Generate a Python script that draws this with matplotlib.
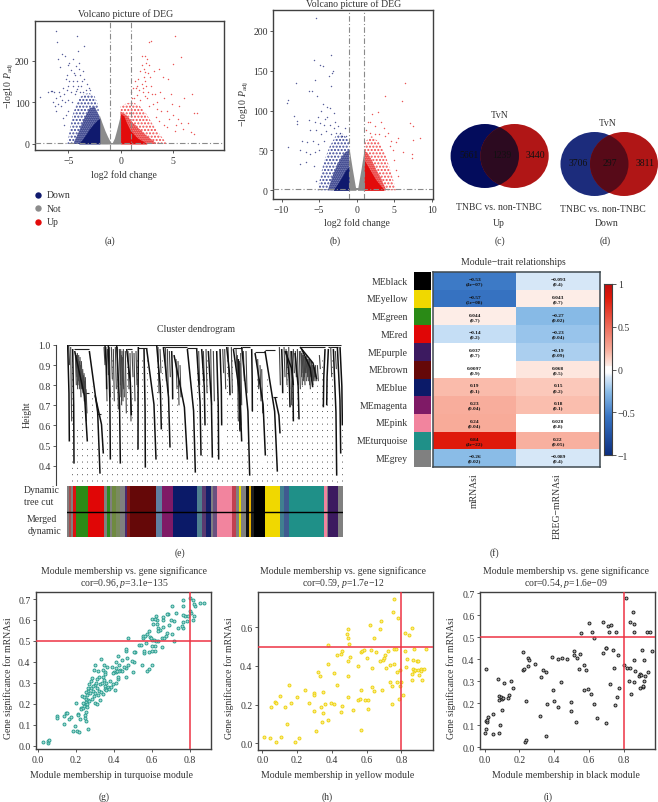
import matplotlib
matplotlib.use('Agg')
import matplotlib.pyplot as plt
from matplotlib.patches import Ellipse
from matplotlib.colors import LinearSegmentedColormap, Normalize
import numpy as np

plt.rcParams['font.family'] = ['Liberation Serif', 'DejaVu Serif']
plt.rcParams['mathtext.fontset'] = 'custom'
plt.rcParams['mathtext.rm'] = 'Liberation Serif'
plt.rcParams['mathtext.it'] = 'Liberation Serif:italic'
W, H = 658, 803
TXT = '#333333'
FS = 7.0

# ---------- volcano (a) ----------
A_GREY_L_X = [-2.05, -1.8, -1.5, -1.25, -1.0, -0.85]
A_GREY_L_Y = [70, 52, 32, 18, 6, 1]
A_GREY_R_X = [-0.85, -0.6, -0.4, -0.2, 0.0]
A_GREY_R_Y = [1, 14, 32, 52, 72]
A_BLUE_X = [-4.0, -3.7, -3.3, -3.0, -2.6, -2.3, -2.0]
A_BLUE_Y = [2, 10, 24, 36, 48, 56, 62]
A_BLUE_MID_X = [-4.5, -4.0, -3.5, -3.0, -2.5, -2.0]
A_BLUE_MID_Y = [2, 30, 60, 85, 90, 65]
A_BLUE_HALO_X = [-5.1, -4.6, -4.0, -3.5, -3.0, -2.5, -2.1]
A_BLUE_HALO_Y = [2, 70, 110, 120, 122, 115, 90]
A_RED_X = [0.0, 0.3, 0.55, 0.9, 1.3, 1.7, 2.2, 2.5]
A_RED_Y = [72, 68, 52, 34, 22, 13, 6, 1]
A_RED_MID_X = [0.0, 0.6, 1.2, 1.8, 2.4, 3.0, 3.4]
A_RED_MID_Y = [78, 68, 50, 36, 22, 10, 1]
A_RED_HALO_X = [0.0, 0.6, 1.2, 1.8, 2.4, 3.0, 3.6, 4.4]
A_RED_HALO_Y = [90, 98, 100, 92, 75, 50, 28, 2]
A_BLUE_PTS = [(-7.7,113),(-7.0,125),(-6.7,128),(-6.4,125),(-6.15,272),(-6.1,244),(-4.2,260),(-3.5,235),(-5.6,215),(-5.3,210),(-4.6,205),(-4.9,195),(-5.0,190),(-4.3,188),(-6.0,205),(-5.8,185),(-5.1,165),(-4.0,180),(-3.9,165),(-4.5,170),(-4.2,150),(-4.9,150),(-5.0,140),(-4.6,140),(-4.1,140),(-3.7,150),(-3.5,155),(-3.3,130),(-3.6,125),(-3.9,125),(-4.4,120),(-4.8,125),(-5.4,120),(-5.8,115),(-6.2,110),(-6.5,100),(-6.0,95),(-6.2,78),(-5.7,90),(-5.3,100),(-5.0,105),(-4.7,100),(-5.2,70),(-5.5,62),(-5.0,80),(-6.6,128),(-5.9,125),(-5.1,130),(-4.3,128),(-5.4,45),(-5.6,105),(-4.4,165),(-4.8,178),(-3.8,140),(-3.2,145),(-2.9,130),(-4.0,195),(-3.6,175),(-4.1,222),(-5.2,155),(-5.5,135),(-6.3,92),(-4.6,152),(-4.2,132),(-3.0,135)]
A_RED_PTS = [(5.2,260),(2.9,248),(2.7,245),(5.8,208),(5.0,192),(2.0,212),(2.3,212),(2.5,205),(2.4,195),(1.9,175),(2.3,172),(2.2,160),(1.7,155),(2.0,145),(1.5,135),(1.0,125),(1.3,110),(1.6,118),(1.9,105),(2.3,115),(2.6,125),(2.9,140),(3.2,175),(3.7,180),(4.1,160),(4.5,155),(4.8,120),(4.2,110),(3.5,100),(3.1,95),(2.7,90),(3.9,80),(4.4,80),(5.0,70),(5.5,60),(5.8,50),(6.1,110),(6.5,50),(6.7,28),(7.0,25),(7.0,75),(7.3,75),(6.8,120),(5.6,90),(4.9,95),(4.6,60),(4.2,45),(3.7,55),(3.4,65),(5.2,30),(1.4,150),(1.8,130),(2.1,125),(2.4,140),(2.2,180),(2.0,190),(2.6,170),(1.1,110),(3.3,120),(3.8,125),(3.5,85),(4.4,40),(5.3,45),(6.0,35),(2.3,150),(1.6,140),(2.8,160),(3.0,120),(2.5,110),(2.1,135),(2.7,190),(1.2,135)]

# ---------- volcano (b) ----------
B_GREY_L_X = [-1.0, -0.8, -0.6, -0.4, -0.2, -0.1]
B_GREY_L_Y = [52, 40, 28, 17, 6, 1]
B_GREY_R_X = [0.1, 0.2, 0.4, 0.6, 0.8, 1.0]
B_GREY_R_Y = [1, 6, 17, 28, 40, 52]
B_BLUE_X = [-3.1, -2.7, -2.3, -1.9, -1.5, -1.0]
B_BLUE_Y = [1, 6, 12, 18, 25, 30]
B_BLUE_MID_X = [-3.8, -3.2, -2.6, -2.0, -1.5, -1.0]
B_BLUE_MID_Y = [1, 18, 32, 42, 48, 50]
B_BLUE_HALO_X = [-5.2, -4.4, -3.6, -2.8, -2.0, -1.0]
B_BLUE_HALO_Y = [1, 35, 55, 68, 72, 62]
B_RED_X = [1.0, 1.5, 2.0, 2.5, 3.0, 3.6]
B_RED_Y = [38, 30, 22, 14, 8, 1]
B_RED_MID_X = [1.0, 1.5, 2.0, 2.6, 3.2, 3.9]
B_RED_MID_Y = [50, 46, 38, 26, 16, 1]
B_RED_HALO_X = [1.0, 2.0, 3.0, 3.8, 4.6, 5.2]
B_RED_HALO_Y = [60, 68, 60, 45, 22, 1]
B_BLUE_PTS = [(-5.4,216),(-3.4,170),(-5.7,163),(-4.9,157),(-4.5,156),(-3.1,150),(-3.3,147),(-3.7,143),(-5.5,138),(-8.1,135),(-3.4,131),(-6.3,124),(-5.9,125),(-5.3,118),(-9.2,113),(-9.3,109),(-4.5,108),(-4.0,105),(-3.6,103),(-4.8,100),(-3.0,97),(-3.9,92),(-8.3,93),(-8.0,87),(-8.0,83),(-6.4,88),(-5.6,85),(-4.9,84),(-4.4,82),(-3.6,82),(-2.9,85),(-2.5,80),(-6.2,75),(-5.4,75),(-4.7,70),(-4.1,74),(-3.4,70),(-2.8,72),(-2.2,72),(-7.3,62),(-6.6,60),(-5.8,62),(-5.2,58),(-4.4,62),(-9.2,54),(-7.5,50),(-6.8,48),(-6.2,45),(-5.6,48),(-5.0,50),(-5.4,12),(-7.6,33),(-6.7,35),(-5.7,30),(-1.6,78),(-1.4,68),(-1.9,68),(-3.0,78),(-5.1,92),(-4.2,90)]
B_RED_PTS = [(6.4,135),(3.8,118),(6.0,112),(2.1,96),(2.8,98),(3.3,85),(7.1,84),(7.5,81),(1.5,86),(1.8,85),(2.5,80),(3.6,78),(4.2,72),(4.6,62),(5.2,60),(1.2,76),(1.8,72),(2.4,70),(3.0,70),(3.8,68),(4.4,55),(4.9,50),(5.5,65),(7.5,63),(8.4,65),(5.0,38),(5.3,25),(5.5,18),(7.4,45),(7.4,40),(6.2,48)]

# ---------- venn ----------
VENN_C = ['5661', '1239', '3440']
VENN_D = ['3706', '297', '3811']

# ---------- dendrogram: x in gene order, heights ----------
TRUNK_X0 = [203,218,224,268,285,315,325,350,380,415,432,440,470,490,515,522,562,590,605,625,650,660,680,700,715,725,755,765,795,825,845,860,875,885,900,905,855,975,985,1000,1012,1020]
TRUNK_TOP = [1.0,.98,.97,.97,.75,1.0,1.0,1.0,.98,.99,.98,.98,1.0,.99,.97,.95,.98,.98,.98,.97,.97,.98,.99,.98,.93,.99,.98,.96,.97,.74,.98,.97,.97,.96,.99,.98,.97,.98,.98,.98,.99,.99]
TRUNK_X1 = [208,222,262,300,310,320,331,361,394,414,436,468,484,510,518,562,586,603,615,637,656,665,690,725,720,749,757,796,832,840,848,870,880,897,950,938,880,970,980,1010,1022,1027]
TRUNK_BOT = [.52,.41,.52,.36,.46,.78,.43,.41,.65,.48,.39,.43,.58,.49,.73,.43,.365,.45,.60,.44,.43,.60,.75,.52,.57,.35,.67,.45,.37,.56,.76,.69,.62,.63,.83,.79,.80,.69,.70,.35,.46,.60]
SHORT_X0 = [206,212,226,228,230,232,234,236,238,240,242,244,246,248,250,252,254,256,258,312,318,322,328,334,340,346,352,358,360,362,364,366,368,370,376,384,390,396,402,408,474,480,496,502,508,528,534,540,596,610,618,632,640,668,674,684,694,708,712,714,716,718,720,722,730,738,773,780,785,838,852,858,866,872,880,886,892,898,902,904,906,908,910,912,914,916,918,920,922,924,926,928,930,932,934,936,938,940,942,944,946,952,958,992,1006]
SHORT_TOP = [1.0,.99,.96,.95,.95,.96,.93,.95,.92,.94,.90,.92,.87,.88,.85,.86,.82,.84,.78,.99,.99,.98,.99,.99,.98,.99,.99,.98,.97,.98,.95,.97,.94,.98,.97,.97,.96,.97,.96,.97,.99,.98,.99,.98,.97,.93,.92,.90,.97,.97,.98,.98,.97,.98,.98,.99,.99,.98,.95,.93,.92,.92,.91,.96,.97,.97,.93,.90,.88,.99,.99,.98,.99,.97,.98,.97,.98,.97,.97,.96,.96,.95,.95,.94,.94,.94,.93,.95,.93,.92,.93,.93,.90,.92,.92,.90,.90,.90,.89,.88,.90,.90,.95,.99,.97]
SHORT_BOT = [.90,.62,.80,.84,.78,.82,.80,.78,.84,.74,.78,.80,.76,.76,.72,.74,.70,.62,.66,.90,.72,.85,.74,.83,.72,.78,.68,.80,.74,.70,.82,.72,.78,.74,.66,.78,.62,.84,.72,.80,.76,.86,.82,.76,.84,.78,.70,.74,.80,.82,.76,.70,.72,.86,.78,.84,.76,.88,.62,.68,.58,.64,.60,.70,.82,.76,.78,.72,.66,.80,.84,.80,.78,.70,.86,.84,.80,.78,.84,.80,.86,.82,.84,.80,.86,.82,.86,.84,.82,.84,.80,.78,.84,.82,.85,.80,.82,.84,.82,.84,.82,.82,.88,.84,.88]
MERGE_X0 = [201,222,252,292,380,415,490,562,700,725,765,795,820,900,985]
MERGE_X1 = [1024,268,266,303,395,440,560,590,725,750,795,825,832,975,1015]
MERGE_H = [1.0,.98,.76,.655,.98,.985,.99,.985,.985,.99,.965,.975,.74,.99,.99]
BAR_EDGES = [201,207,212,218,228,264,312,322,330,336,348,360,376,382,390,468,485,520,590,605,618,632,640,652,697,708,716,724,738,748,754,762,795,840,852,868,972,980,985,1015,1028]
BAR_COLORS = ['#808080','#a05050','#808080','#dd1111','#2a8a16','#e00606','#808080','#2f8a20','#808080','#6f8a40','#7a8a60','#808080','#4a2a70','#8a1a1a','#650808','#6080a0','#7f1a66','#0b1a68','#4f8090','#5a3a70','#15206a','#808080','#6a5080','#f2849e','#c04050','#808080','#e8d800','#808080','#111111','#e8b000','#202020','#000000','#f0d800','#408090','#405a90','#1f9088','#f2849e','#808080','#3c1a60','#808080']

# ---------- heatmap ----------
MODULES = ['MEblack','MEyellow','MEgreen','MEred','MEpurple','MEbrown','MEblue','MEmagenta','MEpink','MEturquoise','MEgrey']
MOD_COLORS = ['#000000','#f0d800','#2a8a16','#e00606','#3c1a60','#650808','#0b1a68','#7f1a66','#f2849e','#1f9088','#808080']
TRAITS = ['mRNAsi','EREG\u2212mRNAsi']
COR_M = [-0.53,-0.57,0.044,-0.14,0.037,0.0097,0.19,0.23,0.24,0.84,-0.26]
COR_E = [-0.093,0.043,-0.27,-0.23,-0.19,0.068,0.15,0.18,0.028,0.22,-0.089]
CELL_M = ['\u22120.53\n(4e\u221207)','\u22120.57\n(5e\u221208)','0.044\n(0.7)','\u22120.14\n(0.2)','0.037\n(0.7)','0.0097\n(0.9)','0.19\n(0.1)','0.23\n(0.04)','0.24\n(0.04)','0.84\n(4e\u221222)','\u22120.26\n(0.02)']
CELL_E = ['\u22120.093\n(0.4)','0.043\n(0.7)','\u22120.27\n(0.02)','\u22120.23\n(0.04)','\u22120.19\n(0.09)','0.068\n(0.5)','0.15\n(0.2)','0.18\n(0.1)','0.028\n(0.8)','0.22\n(0.05)','\u22120.089\n(0.4)']

# ---------- scatter ----------
TURQ = [(0.025,0.018),(0.05,0.015),(0.055,0.022),(0.058,0.028),(0.10,0.142),(0.10,0.13),(0.135,0.105),(0.135,0.14),(0.145,0.155),(0.15,0.155),(0.165,0.125),(0.175,0.135),(0.185,0.072),(0.195,0.095),(0.205,0.07),(0.215,0.065),(0.265,0.08),(0.255,0.118),(0.20,0.202),(0.21,0.15),(0.21,0.145),(0.22,0.125),(0.225,0.18),(0.225,0.175),(0.23,0.238),(0.235,0.18),(0.24,0.19),(0.245,0.13),(0.245,0.145),(0.25,0.16),(0.25,0.2),(0.255,0.21),(0.255,0.225),(0.26,0.2),(0.26,0.185),(0.265,0.22),(0.265,0.26),(0.27,0.295),(0.275,0.25),(0.28,0.31),(0.285,0.325),(0.28,0.275),(0.29,0.26),(0.295,0.235),(0.30,0.25),(0.30,0.29),(0.305,0.30),(0.31,0.275),(0.315,0.24),(0.32,0.26),(0.325,0.295),(0.33,0.415),(0.34,0.36),(0.30,0.385),(0.295,0.36),(0.315,0.355),(0.345,0.385),(0.35,0.35),(0.34,0.33),(0.335,0.30),(0.345,0.315),(0.30,0.205),(0.31,0.20),(0.325,0.22),(0.33,0.255),(0.34,0.245),(0.35,0.285),(0.355,0.27),(0.36,0.30),(0.36,0.265),(0.37,0.28),(0.375,0.27),(0.385,0.28),(0.395,0.295),(0.405,0.265),(0.41,0.30),(0.42,0.32),(0.42,0.33),(0.41,0.35),(0.40,0.35),(0.395,0.345),(0.43,0.36),(0.44,0.355),(0.425,0.355),(0.415,0.355),(0.41,0.37),(0.39,0.375),(0.50,0.35),(0.465,0.33),(0.505,0.40),(0.495,0.405),(0.465,0.37),(0.45,0.375),(0.475,0.385),(0.425,0.385),(0.41,0.40),(0.44,0.41),(0.47,0.42),(0.42,0.43),(0.465,0.45),(0.465,0.46),(0.51,0.445),(0.505,0.445),(0.60,0.385),(0.585,0.365),(0.575,0.355),(0.545,0.385),(0.585,0.445),(0.555,0.44),(0.56,0.45),(0.63,0.50),(0.715,0.50),(0.65,0.47),(0.615,0.45),(0.60,0.45),(0.615,0.475),(0.60,0.475),(0.475,0.515),(0.53,0.48),(0.54,0.48),(0.57,0.49),(0.55,0.515),(0.55,0.525),(0.59,0.52),(0.62,0.50),(0.61,0.505),(0.60,0.505),(0.595,0.515),(0.565,0.525),(0.575,0.535),(0.585,0.545),(0.625,0.60),(0.605,0.58),(0.60,0.605),(0.615,0.605),(0.62,0.62),(0.625,0.58),(0.63,0.56),(0.655,0.565),(0.64,0.55),(0.63,0.545),(0.65,0.515),(0.665,0.515),(0.675,0.525),(0.705,0.535),(0.68,0.54),(0.765,0.56),(0.76,0.57),(0.735,0.56),(0.69,0.575),(0.715,0.595),(0.70,0.60),(0.66,0.60),(0.655,0.615),(0.685,0.63),(0.68,0.63),(0.725,0.635),(0.765,0.59),(0.785,0.595),(0.815,0.60),(0.82,0.62),(0.775,0.62),(0.765,0.625),(0.79,0.62),(0.805,0.635),(0.80,0.645),(0.705,0.665),(0.765,0.668),(0.825,0.665),(0.82,0.675),(0.765,0.695),(0.815,0.695),(0.80,0.705),(0.875,0.682),(0.85,0.68),(0.24,0.23),(0.235,0.205),(0.27,0.215),(0.285,0.225),(0.29,0.285),(0.265,0.275),(0.25,0.255),(0.26,0.24),(0.32,0.33),(0.31,0.32),(0.355,0.34),(0.38,0.31),(0.365,0.375)]
YELLOW = [(0.01,0.035),(0.045,0.027),(0.08,0.005),(0.105,0.033),(0.19,0.005),(0.21,0.025),(0.14,0.10),(0.05,0.187),(0.07,0.215),(0.08,0.208),(0.10,0.247),(0.13,0.188),(0.155,0.30),(0.165,0.208),(0.20,0.237),(0.245,0.275),(0.27,0.207),(0.30,0.168),(0.30,0.26),(0.30,0.25),(0.31,0.063),(0.32,0.367),(0.33,0.347),(0.335,0.187),(0.345,0.11),(0.35,0.155),(0.35,0.263),(0.36,0.205),(0.38,0.51),(0.38,0.41),(0.38,0.123),(0.395,0.208),(0.41,0.205),(0.415,0.362),(0.43,0.455),(0.43,0.303),(0.45,0.162),(0.455,0.46),(0.46,0.478),(0.46,0.193),(0.485,0.567),(0.49,0.348),(0.49,0.425),(0.495,0.59),(0.495,0.545),(0.495,0.238),(0.50,0.512),(0.505,0.445),(0.52,0.172),(0.55,0.225),(0.55,0.40),(0.56,0.228),(0.565,0.07),(0.57,0.278),(0.57,0.47),(0.575,0.475),(0.585,0.482),(0.59,0.225),(0.60,0.44),(0.605,0.178),(0.61,0.225),(0.62,0.61),(0.625,0.483),(0.63,0.39),(0.63,0.292),(0.64,0.27),(0.64,0.545),(0.655,0.47),(0.675,0.425),(0.675,0.592),(0.685,0.633),(0.69,0.278),(0.695,0.432),(0.70,0.443),(0.705,0.455),(0.71,0.39),(0.72,0.48),(0.735,0.315),(0.735,0.405),(0.745,0.205),(0.745,0.298),(0.75,0.68),(0.755,0.748),(0.755,0.49),(0.755,0.41),(0.77,0.487),(0.775,0.315),(0.775,0.37),(0.78,0.648),(0.785,0.23),(0.79,0.295),(0.79,0.38),(0.795,0.315),(0.81,0.252),(0.82,0.57),(0.82,0.48),(0.825,0.395),(0.83,0.435),(0.845,0.558),(0.86,0.595),(0.86,0.36),(0.86,0.33),(0.865,0.43),(0.865,0.385),(0.87,0.49),(0.87,0.375),(0.88,0.38),(0.89,0.425),(0.895,0.425),(0.895,0.38),(0.90,0.355),(0.91,0.385),(0.915,0.375),(0.92,0.325),(0.93,0.385),(0.94,0.49)]
BLACK = [(0.005,0.358),(0.0,0.065),(0.01,0.083),(0.01,0.12),(0.012,0.115),(0.015,0.125),(0.018,0.137),(0.045,0.06),(0.045,0.153),(0.075,0.31),(0.08,0.063),(0.085,0.235),(0.085,0.215),(0.09,0.103),(0.095,0.23),(0.098,0.22),(0.10,0.17),(0.105,0.225),(0.11,0.292),(0.135,0.222),(0.14,0.238),(0.15,0.303),(0.16,0.268),(0.22,0.35),(0.22,0.435),(0.225,0.355),(0.23,0.025),(0.235,0.035),(0.24,0.21),(0.25,0.405),(0.25,0.368),(0.255,0.395),(0.29,0.378),(0.32,0.142),(0.325,0.318),(0.335,0.35),(0.355,0.342),(0.355,0.052),(0.36,0.195),(0.385,0.41),(0.39,0.26),(0.40,0.21),(0.42,0.40),(0.42,0.185),(0.44,0.296),(0.445,0.405),(0.475,0.40),(0.495,0.205),(0.495,0.163),(0.515,0.437),(0.515,0.418),(0.525,0.113),(0.53,0.405),(0.54,0.355),(0.545,0.423),(0.555,0.52),(0.57,0.375),(0.57,0.262),(0.58,0.35),(0.595,0.267),(0.60,0.565),(0.61,0.243),(0.615,0.523),(0.63,0.497),(0.63,0.198),(0.645,0.135),(0.68,0.57),(0.68,0.428),(0.695,0.45),(0.70,0.45),(0.70,0.112),(0.71,0.55),(0.715,0.523),(0.72,0.288),(0.725,0.558),(0.74,0.443),(0.745,0.362),(0.75,0.19),(0.755,0.523),(0.76,0.23),(0.765,0.42),(0.77,0.268),(0.80,0.373),(0.815,0.68),(0.82,0.36),(0.83,0.303),(0.835,0.57),(0.835,0.36),(0.84,0.243),(0.85,0.615),(0.86,0.56),(0.86,0.523),(0.86,0.298),(0.86,0.398),(0.865,0.345),(0.885,0.325),(0.89,0.268),(0.895,0.335),(0.90,0.33),(0.905,0.44),(0.91,0.275),(0.91,0.278),(0.915,0.398),(0.915,0.30),(0.92,0.325),(0.935,0.522),(0.94,0.34),(0.95,0.525),(0.96,0.438)]

fig = plt.figure(figsize=(W/100, H/100), dpi=100, facecolor='white')

def box(l, t, r, b):
    return fig.add_axes([l/W, 1-b/H, (r-l)/W, (b-t)/H])

def style(ax, lw=1.0):
    for s in ax.spines.values():
        s.set_linewidth(lw); s.set_color('#404040')
    ax.tick_params(labelsize=FS, length=2.5, width=0.6, color='#404040', labelcolor=TXT, pad=1.5)

ov = fig.add_axes([0, 0, 1, 1], zorder=5)
ov.set_xlim(0, W); ov.set_ylim(H, 0); ov.axis('off'); ov.patch.set_alpha(0)
def T(x, y, s, **k):
    k.setdefault('fontsize', FS); k.setdefault('color', TXT)
    k.setdefault('ha', 'center'); k.setdefault('va', 'center')
    ov.text(x, y, s, **k)

def volcano(ax, grey_l, grey_r, blue, blue_m, blue_h, red, red_m, red_h, bp, rp, band):
    G, B, R = '#8c8c8c', '#101a6e', '#e30b0b'
    ax.fill_between(blue_h[0], 0, blue_h[1], facecolor='none', edgecolor='#3a4596', hatch='.....', lw=0, zorder=1)
    ax.fill_between(red_h[0], 0, red_h[1], facecolor='none', edgecolor='#f0484a', hatch='.....', lw=0, zorder=1)
    ax.fill_between(blue_m[0], 0, blue_m[1], facecolor='#9096c4', edgecolor=B, hatch='........', lw=0, zorder=1.5)
    ax.fill_between(red_m[0], 0, red_m[1], facecolor='#f6a0a0', edgecolor=R, hatch='........', lw=0, zorder=1.5)
    ax.scatter(*zip(*bp), s=1.1, color=B, lw=0, alpha=.7, zorder=2)
    ax.scatter(*zip(*rp), s=1.1, color=R, lw=0, alpha=.7, zorder=2)
    ax.fill_between(grey_l[0], 0, grey_l[1], color=G, lw=0, zorder=3)
    ax.fill_between(grey_r[0], 0, grey_r[1], color=G, lw=0, zorder=3)
    ax.fill_between(band, 0, [3, 3], color=G, lw=0, zorder=3)
    ax.fill_between(blue[0], 0, blue[1], color=B, lw=0, zorder=3)
    ax.fill_between(red[0], 0, red[1], color=R, lw=0, zorder=3)
    for v in (-1, 1):
        ax.axvline(v, color='#8a8a8a', lw=.8, ls=(0, (5, 2, 1, 2)), zorder=4)
    ax.axhline(2, color='#8a8a8a', lw=.8, ls=(0, (5, 2, 1, 2)), zorder=4)
    style(ax)

# (a)
ax = box(35, 22, 224, 151)
volcano(ax, (A_GREY_L_X, A_GREY_L_Y), (A_GREY_R_X, A_GREY_R_Y), (A_BLUE_X, A_BLUE_Y), (A_BLUE_MID_X, A_BLUE_MID_Y),
        (A_BLUE_HALO_X, A_BLUE_HALO_Y), (A_RED_X, A_RED_Y), (A_RED_MID_X, A_RED_MID_Y), (A_RED_HALO_X, A_RED_HALO_Y),
        A_BLUE_PTS, A_RED_PTS, [-2.1, 0.0])
ax.set_xlim(-8.2, 9.9); ax.set_ylim(-14.4, 295)
ax.set_xticks([-5, 0, 5]); ax.set_yticks([0, 100, 200])
ax.set_xticklabels(['\u22125', '0', '5'])
T(126, 14, 'Volcano picture of DEG')
T(124, 175, 'log2 fold change')
T(9, 86, r'$-$log10 $\mathit{P}_{\mathrm{adj}}$', rotation=90)
for y, c, s in zip([196, 209, 222.7], ['#101a6e', '#8c8c8c', '#e30b0b'], ['Down', 'Not', 'Up']):
    ov.plot([37.7], [y], 'o', ms=4.6, color=c, mew=0)
    T(47, y, s, ha='left')
T(110, 241, '(a)')

# (b)
ax = box(273.3, 11, 433.3, 200)
volcano(ax, (B_GREY_L_X, B_GREY_L_Y), (B_GREY_R_X, B_GREY_R_Y), (B_BLUE_X, B_BLUE_Y), (B_BLUE_MID_X, B_BLUE_MID_Y),
        (B_BLUE_HALO_X, B_BLUE_HALO_Y), (B_RED_X, B_RED_Y), (B_RED_MID_X, B_RED_MID_Y), (B_RED_HALO_X, B_RED_HALO_Y),
        B_BLUE_PTS, B_RED_PTS, [-2.0, 2.0])
ax.set_xlim(-11.1, 10.2); ax.set_ylim(-10.9, 226)
ax.set_xticks([-10, -5, 0, 5, 10]); ax.set_yticks([0, 50, 100, 150, 200])
ax.set_xticklabels(['\u221210', '\u22125', '0', '5', '10'])
T(354, 4, 'Volcano picture of DEG')
T(357, 223, 'log2 fold change')
T(244, 104, r'$-$log10 $\mathit{P}_{\mathrm{adj}}$', rotation=90)
T(335, 241, '(b)')

# venns
def venn(cx1, cx2, cy, rx, ry, c1, c2, c3, vals, xs, ty):
    e1 = Ellipse((cx1, cy), 2*rx, 2*ry, fc=c1, ec='none')
    e2 = Ellipse((cx2, cy), 2*rx, 2*ry, fc=c2, ec='none')
    ov.add_patch(e1); ov.add_patch(e2)
    e3 = Ellipse((cx2, cy), 2*rx, 2*ry, fc=c3, ec='none')
    ov.add_patch(e3)
    e3.set_clip_path(Ellipse((cx1, cy), 2*rx, 2*ry, transform=ov.transData))
    for v, x in zip(vals, xs):
        T(x, ty, v, color='#111111', fontsize=FS)
venn(484.8, 514.5, 157, 34.2, 32, '#030c5c', '#b01616', '#2c0a20', VENN_C, [469, 501.7, 535.7], 155.7)
venn(594.5, 624, 165, 34, 32, '#1c2c7c', '#b01616', '#570a18', VENN_D, [578, 610, 645], 163)
T(500, 115, 'TvN'); T(499, 207, 'TNBC vs. non-TNBC'); T(499, 223.7, 'Up'); T(500, 241, '(c)')
T(608, 123, 'TvN'); T(603, 209.7, 'TNBC vs. non-TNBC'); T(607, 223.3, 'Down'); T(605, 241, '(d)')

# (e)
ax = box(67, 346, 342.7, 486)
ax.set_xlim(201, 1028); ax.set_ylim(0.3035, 1.0)
for gx in range(216, 1028, 15):
    lows = [b + (t-b)*(x1-gx)/max(x1-x0, 1) for x0, x1, t, b in zip(TRUNK_X0+SHORT_X0, TRUNK_X1+SHORT_X0, TRUNK_TOP+SHORT_TOP, TRUNK_BOT+SHORT_BOT) if x0-1 <= gx <= x1+1]
    ax.vlines(gx, 0.325, (min(lows) if lows else .95)-.02, color='#555555', lw=.7, ls=(0, (1, 5.5)), zorder=0)
ax.hlines(MERGE_H, MERGE_X0, MERGE_X1, color='#222222', lw=.8)
for x0, t, b in zip(SHORT_X0, SHORT_TOP, SHORT_BOT):
    ax.plot([x0, x0+3], [t, b], color='#444444', lw=.8, solid_capstyle='butt')
for x0, t, x1, b in zip(TRUNK_X0, TRUNK_TOP, TRUNK_X1, TRUNK_BOT):
    ax.plot([x0, x0+.78*(x1-x0), x1], [t, (t+b)/2, b], color='#111111', lw=1.1, solid_capstyle='butt')
for s in ['top', 'right', 'bottom']:
    ax.spines[s].set_visible(False)
ax.spines['left'].set_position(('outward', 10.7*0.72))
ax.spines['left'].set_color('#404040'); ax.spines['left'].set_linewidth(.8)
ax.set_xticks([]); ax.set_yticks([.4, .5, .6, .7, .8, .9, 1.0])
ax.set_yticklabels(['0.4', '0.5', '0.6', '0.7', '0.8', '0.9', '1.0'])
ax.tick_params(labelsize=FS, length=2.5, width=.6, color='#404040', labelcolor=TXT, pad=1.5)
T(196, 330, 'Cluster dendrogram')
T(27, 415, 'Height', rotation=90)
bar = box(67, 486.7, 342.7, 538.3)
bar.set_xlim(201, 1028); bar.set_ylim(0, 2); bar.axis('off')
bar.barh([1.5]*len(BAR_COLORS), np.diff(BAR_EDGES), left=BAR_EDGES[:-1], height=1, color=BAR_COLORS, lw=0)
bar.barh([0.5]*len(BAR_COLORS), np.diff(BAR_EDGES), left=BAR_EDGES[:-1], height=1, color=BAR_COLORS, lw=0)
bar.axhline(1, color='black', lw=1)
T(42, 491, 'Dynamic'); T(39, 503, 'tree cut'); T(42, 520, 'Merged'); T(44, 532, 'dynamic')
T(180, 552.7, '(e)')

# (f)
cmap = LinearSegmentedColormap.from_list('bwr', [
    (0.0, '#0c2f80'), (0.225, '#3875c4'), (0.37, '#8bbde8'), (0.43, '#c5def5'), (0.4535, '#d4e6f7'),
    (0.48, '#ffffff'), (0.5185, '#ffffff'), (0.5215, '#feeee8'), (0.575, '#fccabc'), (0.62, '#f8ab99'), (0.92, '#e01a0a'), (1.0, '#c00f0f')])
norm = Normalize(-1, 1)
cc = box(414.3, 273.3, 431.3, 468.3)
cc.barh(range(len(MODULES)), [1]*len(MODULES), height=1, color=MOD_COLORS)
cc.set_xlim(0, 1); cc.set_ylim(len(MODULES)-.5, -.5); cc.axis('off')
hm = box(433, 273.3, 599.7, 468.3)
hm.imshow(np.array([COR_M, COR_E]).T, cmap=cmap, norm=norm, aspect='auto', interpolation='nearest')
for j, col in enumerate([CELL_M, CELL_E]):
    for i, s in enumerate(col):
        hm.text(j, i, s, ha='center', va='center', fontsize=3.9, color='#111111', linespacing=1.05, fontweight='bold')
hm.set_xticks([]); hm.set_yticks([])
for s in hm.spines.values():
    s.set_linewidth(1.1); s.set_color('#404a50')
for i, m in enumerate(MODULES):
    T(408, 273.3 + (i+.5)*195/11, m, ha='right')
T(513, 263, 'Module\u2212trait relationships')
ov.text(474.5, 473.5, TRAITS[0], rotation=90, ha='center', va='top', fontsize=FS, color=TXT)
ov.text(557.5, 473.5, TRAITS[1], rotation=90, ha='center', va='top', fontsize=FS, color=TXT)
cb = box(604.3, 285, 611.7, 456)
cb.imshow(np.linspace(1, -1, 256)[:, None], cmap=cmap, norm=norm, aspect='auto', extent=[0, 1, -1, 1])
cb.set_xticks([]); cb.yaxis.tick_right()
cb.set_yticks([-1, -.5, 0, .5, 1]); cb.set_yticklabels(['\u22121', '\u22120.5', '0', '0.5', '1'])
cb.tick_params(labelsize=FS, length=3, width=.6, color='#404040', labelcolor=TXT, pad=1.5)
for s in cb.spines.values():
    s.set_linewidth(.8); s.set_color('#404040')
T(494, 552.7, '(f)')

def scatter(rect, pts, fc, ec, xlim, ylim, xt, yt, title, sub, xl, tx, subx, xlx, yly, ylx):
    ax = box(*rect)
    ax.scatter(*zip(*pts), s=4.5, facecolor=fc, edgecolor=ec, lw=.7, zorder=2)
    ax.axvline(.8, color='#ee3344', lw=1.1, zorder=3)
    ax.axhline(.5, color='#ee3344', lw=1.1, zorder=3)
    ax.set_xlim(*xlim); ax.set_ylim(*ylim)
    ax.set_xticks(xt); ax.set_yticks(yt)
    ax.set_xticklabels([f'{v:.1f}' for v in xt]); ax.set_yticklabels([f'{v:.1f}' for v in yt])
    style(ax)
    T(tx, 571.5, title); T(subx, 583.5, sub)
    T(xlx, 776, xl)
    T(ylx, yly, 'Gene significance for mRNAsi', rotation=90)

scatter((36, 593.3, 211, 750), TURQ, '#a8dcd4', '#2e9f92', (-0.0105, 0.91), (-0.016, 0.732),
        [0, .2, .4, .6, .8], [0, .1, .2, .3, .4, .5, .6, .7], 'Module membership vs. gene significance',
        r'cor=0.96, $\mathit{p}$=3.1e$-$135', 'Module membership in turquoise module', 124, 124, 112, 678, 8)
T(104, 796.7, '(g)')
scatter((258, 593.3, 432.7, 750.7), YELLOW, '#f9ec90', '#efd414', (-0.025, 0.98), (-0.033, 0.781),
        [0, .2, .4, .6, .8], [0, .2, .4, .6], 'Module membership vs. gene significance',
        r'cor=0.59, $\mathit{p}$=1.7e$-$12', 'Module membership in yellow module', 343, 343, 338, 678, 229)
T(326.7, 796.7, '(h)')
scatter((480, 593.3, 655, 750), BLACK, '#b8b8b8', '#222222', (-0.027, 0.979), (-0.008, 0.7045),
        [0, .2, .4, .6, .8], [0, .1, .2, .3, .4, .5, .6, .7], 'Module membership vs. gene significance',
        r'cor=0.54, $\mathit{p}$=1.6e$-$09', 'Module membership in black module', 566, 566, 566, 678, 451)
T(548, 796.7, '(i)')

fig.savefig('out.png', dpi=100, facecolor='white')
